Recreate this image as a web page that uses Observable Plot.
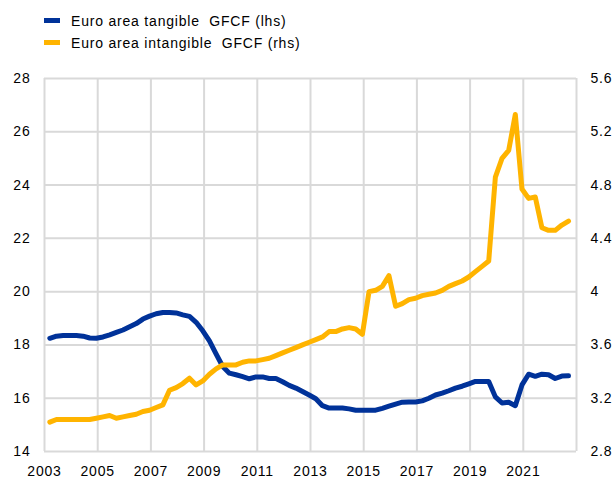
<!DOCTYPE html>
<html>
<head>
<meta charset="utf-8">
<script src="https://cdn.jsdelivr.net/npm/d3@7"></script>
<script src="https://cdn.jsdelivr.net/npm/@observablehq/plot@0.6"></script>
<style>
  html, body { margin: 0; padding: 0; background: #fff; }
  #wrap { position: relative; width: 615px; height: 479px; font-family: "Liberation Sans", Arial, sans-serif; }
  .legend { position: absolute; left: 44px; top: 0; font-size: 14px; line-height: 22px; letter-spacing: 0.8px; color: #000; }
  .row { position: absolute; left: 0; white-space: nowrap; }
  .sw { position: absolute; left: 0; width: 16px; height: 5px; }
  .lab { position: absolute; left: 27px; top: 0; white-space: pre; }
</style>
</head>
<body>
<div id="wrap"></div>
<script>
// Series names / colours
const seriesNames = ["Euro area tangible  GFCF (lhs)", "Euro area intangible  GFCF (rhs)"];
const seriesColors = ["#003299", "#ffb400"];

// Quarterly periods 2003Q1 .. 2022Q3
const quarters = d3.range(79).map(i => `${2003 + Math.floor(i / 4)}Q${(i % 4) + 1}`);

// Tangible GFCF (left axis, % )
const tangible = [
  18.25, 18.33, 18.35, 18.35, 18.35, 18.33, 18.26, 18.25,
  18.30, 18.38, 18.47, 18.56, 18.68, 18.80, 18.97, 19.08,
  19.17, 19.22, 19.22, 19.20, 19.13, 19.07, 18.85, 18.53,
  18.15, 17.66, 17.19, 16.94, 16.88, 16.81, 16.73, 16.80,
  16.80, 16.74, 16.74, 16.62, 16.48, 16.38, 16.25, 16.12,
  15.98, 15.72, 15.63, 15.63, 15.63, 15.60, 15.55, 15.55,
  15.55, 15.55, 15.62, 15.70, 15.78, 15.85, 15.86, 15.86,
  15.90, 16.00, 16.12, 16.19, 16.28, 16.38, 16.45, 16.54,
  16.63, 16.63, 16.63, 16.05, 15.82, 15.85, 15.72, 16.50,
  16.90, 16.82, 16.90, 16.88, 16.74, 16.83, 16.84
];

// Intangible GFCF (right axis, %)
const intangible = [
  3.02, 3.04, 3.04, 3.04, 3.04, 3.04, 3.04, 3.05,
  3.06, 3.07, 3.05, 3.06, 3.07, 3.08, 3.10, 3.11,
  3.13, 3.15, 3.26, 3.28, 3.31, 3.35, 3.30, 3.33,
  3.38, 3.42, 3.45, 3.45, 3.45, 3.47, 3.48, 3.48,
  3.49, 3.50, 3.52, 3.54, 3.56, 3.58, 3.60, 3.62,
  3.64, 3.66, 3.70, 3.70, 3.72, 3.73, 3.72, 3.68,
  4.00, 4.01, 4.04, 4.12, 3.89, 3.91, 3.94, 3.95,
  3.97, 3.98, 3.99, 4.01, 4.04, 4.06, 4.08, 4.11,
  4.15, 4.19, 4.23, 4.86, 5.00, 5.06, 5.33, 4.77,
  4.70, 4.71, 4.48, 4.46, 4.46, 4.50, 4.53
];

// Axis ticks
const xTicks = [2003, 2005, 2007, 2009, 2011, 2013, 2015, 2017, 2019, 2021];
const xGrid = [2003, 2005, 2007, 2009, 2011, 2013, 2015, 2017, 2019, 2021, 2023];
const leftTicks = [14, 16, 18, 20, 22, 24, 26, 28];
const rightTicks = [2.8, 3.2, 3.6, 4.0, 4.4, 4.8, 5.2, 5.6];
const rightRatio = 5; // lhs = rhs * 5

// Build table
const qx = q => { const y = +q.slice(0, 4), n = +q.slice(5); return y + n / 4 - 0.05; };
const data = [];
quarters.forEach((q, i) => {
  data.push({t: qx(q), v: tangible[i], s: seriesNames[0]});
});
quarters.forEach((q, i) => {
  data.push({t: qx(q), v: intangible[i] * rightRatio, s: seriesNames[1]});
});

const plot = Plot.plot({
  width: 615,
  height: 479,
  marginLeft: 44,
  marginRight: 39,
  marginTop: 78,
  marginBottom: 28,
  style: {fontFamily: "'Liberation Sans', Arial, sans-serif", fontSize: "14px", color: "#000", background: "#fff", letterSpacing: "0.8px"},
  x: {domain: [2003, 2023]},
  y: {domain: [14, 28]},
  color: {domain: seriesNames, range: seriesColors},
  marks: [
    Plot.ruleY(leftTicks, {stroke: "#d9d9d9", strokeWidth: 2}),
    Plot.ruleX(xGrid, {stroke: "#d9d9d9", strokeWidth: 2}),
    Plot.axisX({ticks: xTicks, tickSize: 0, tickPadding: 15, tickFormat: d => String(d), label: null}),
    Plot.axisY({anchor: "left", ticks: leftTicks, tickSize: 0, tickPadding: 14, tickFormat: d => String(d), label: null}),
    Plot.axisY({anchor: "right", ticks: rightTicks.map(r => r * rightRatio), tickSize: 0, tickPadding: 14,
      tickFormat: d => String(+(d / rightRatio).toFixed(1)), label: null}),
    Plot.line(data, {x: "t", y: "v", z: "s", stroke: "s", strokeWidth: 5, strokeLinejoin: "round", strokeLinecap: "round"})
  ]
});

const wrap = document.getElementById("wrap");
wrap.appendChild(plot);

// Legend
const legend = document.createElement("div");
legend.className = "legend";
const centers = [20.8, 42.5];
seriesNames.forEach((name, i) => {
  const row = document.createElement("div");
  row.className = "row";
  row.style.top = (centers[i] - 10.8) + "px";
  const sw = document.createElement("span");
  sw.className = "sw";
  sw.style.background = seriesColors[i];
  sw.style.top = (10.8 - 2.5) + "px";
  const lab = document.createElement("span");
  lab.className = "lab";
  lab.textContent = name;
  row.appendChild(sw);
  row.appendChild(lab);
  legend.appendChild(row);
});
wrap.appendChild(legend);
</script>
</body>
</html>
